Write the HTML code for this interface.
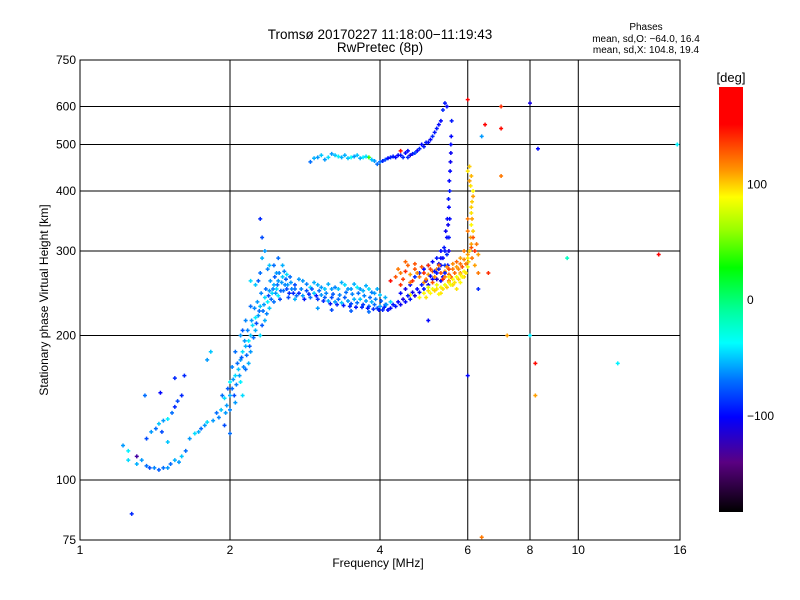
<!DOCTYPE html>
<html><head><meta charset="utf-8"><style>
body{margin:0;background:#fff;}
svg{display:block;font-family:"Liberation Sans",sans-serif;}
</style></head><body>
<svg id="chart" width="800" height="600" viewBox="0 0 800 600">
<rect width="800" height="600" fill="#fff"/>
<text x="380" y="39" font-size="13.5" text-anchor="middle">Tromsø 20170227 11:18:00−11:19:43</text>
<text x="380" y="52" font-size="13.5" text-anchor="middle">RwPretec (8p)</text>
<text x="646" y="30" font-size="10" text-anchor="middle">Phases</text>
<text x="646" y="42" font-size="10" text-anchor="middle">mean, sd,O: −64.0, 16.4</text>
<text x="646" y="53" font-size="10" text-anchor="middle">mean, sd,X: 104.8, 19.4</text>
<g id="grid"></g>
<g id="marks"></g>
<rect x="80" y="60" width="600" height="480" fill="none" stroke="#000" stroke-width="1"/>
<g id="ticks" font-size="12"></g>
<text x="378" y="567" font-size="12" text-anchor="middle">Frequency [MHz]</text>
<text x="0" y="0" font-size="12" text-anchor="middle" transform="translate(48,300) rotate(-90)">Stationary phase Virtual Height [km]</text>
<defs><linearGradient id="cbg" x1="0" y1="1" x2="0" y2="0"></linearGradient></defs>
<rect x="719" y="87" width="24" height="425" fill="url(#cbg)"/>
<text x="731" y="82" font-size="13" text-anchor="middle">[deg]</text>
<g id="cbticks" font-size="12"></g>
</svg>
<script>
const NS='http://www.w3.org/2000/svg';
// data: frequency (MHz), virtual height (km), phase (deg)
const freqs=[1.22,1.25,1.25,1.3,1.33,1.36,1.38,1.41,1.44,1.47,1.5,1.52,1.55,1.58,1.6,1.63,1.3,
1.36,1.39,1.42,1.44,1.47,1.5,1.53,1.55,1.57,1.6,1.35,1.55,1.8,1.83,1.46,1.5,1.66,1.7,1.73,1.75,1.78,1.8,1.85,1.88,
1.92,1.95,1.97,2.0,2.0,2.02,2.05,2.05,2.08,2.1,2.1,2.12,2.15,2.15,2.18,2.2,2.2,2.22,2.25,2.25,2.28,2.3,2.3,2.33,2.35,2.35,2.38,2.4,2.4,2.43,2.45,2.45,2.48,2.5,2.5,2.53,2.55,2.58,2.6,2.6,2.63,2.65,2.3,2.32,2.35,2.3,2.32,2.4,2.5,2.55,2.2,2.25,1.95,2.0,2.12,2.18,
2.7,2.75,2.8,2.85,2.9,2.95,3.0,3.05,3.1,3.15,3.2,3.25,3.3,3.35,3.4,3.45,3.5,3.55,3.6,3.65,3.7,3.75,3.8,3.85,3.9,3.95,4.0,4.05,4.1,3.3,3.4,3.5,3.6,3.7,3.8,3.9,4.0,2.8,3.0,3.1,2.9,3.2,4.1,4.2,2.7,3.0,3.2,3.5,3.8,
4.2,4.3,4.4,4.5,4.6,4.7,4.8,4.9,5.0,5.1,5.2,5.3,5.35,5.4,5.45,5.48,5.5,5.52,5.53,5.55,5.56,5.57,4.6,4.7,4.8,4.9,5.0,5.1,5.2,5.3,4.5,4.4,5.4,5.45,
4.8,4.9,5.0,5.1,5.2,5.3,5.35,5.4,4.7,4.6,
2.9,3.0,3.05,3.15,3.2,3.3,3.4,3.5,3.6,3.7,3.9,4.0,4.1,4.2,4.3,4.4,4.5,3.8,4.4,
4.3,4.4,4.5,4.6,4.7,4.8,4.9,5.0,5.1,5.2,5.3,5.4,5.5,5.6,5.7,5.8,5.9,6.0,4.6,4.9,5.2,5.5,5.8,4.4,4.2,5.0,
4.9,5.0,5.1,5.2,5.3,5.4,5.5,5.6,5.7,5.8,5.9,6.0,5.0,5.3,5.6,5.9,4.8,4.6,
6.05,6.08,6.1,6.1,6.12,6.15,6.05,6.0,6.1,6.12,6.2,6.2,6.0,
6.0,6.5,7.0,7.0,8.0,8.3,7.0,6.3,6.6,7.2,8.0,8.2,8.2,6.0,9.5,12,14.5,1.27,15.8,6.4,6.4,5.0,6.3,1.62,1.45,
1.9,1.93,1.96,1.98,2.0,2.03,2.04,2.06,2.07,2.09,2.11,2.13,2.14,2.16,2.17,2.19,2.21,2.23,2.24,2.26,2.27,2.29,2.31,2.32,2.34,2.36,2.37,2.39,2.41,2.42,2.44,2.46,2.47,2.49,2.51,2.52,2.54,2.56,2.57,2.59,2.61,2.62,2.64,2.66,2.68,2.2,2.15,2.1,2.28,2.38,2.45,2.48,2.05,2.12,2.02,
2.7,2.72,2.78,2.82,2.88,2.92,2.98,3.02,3.08,3.12,3.18,3.22,3.28,3.32,3.38,3.42,3.48,3.52,3.58,3.62,3.68,3.72,3.78,3.82,3.88,3.92,3.98,4.02,4.08,4.12,4.15,2.75,2.85,2.95,3.05,3.15,3.25,3.35,3.45,3.55,3.65,3.75,3.85,3.95,
4.25,4.35,4.45,4.55,4.65,4.75,4.85,4.95,5.05,5.15,5.25,5.3,5.38,5.42,5.46,5.49,5.51,5.54,5.55,5.5,5.47,5.3,5.4,5.35,5.2,5.25,5.5,5.52,
4.85,4.95,5.05,5.15,5.25,4.75,4.65,4.55,5.45,
2.95,3.1,3.25,3.35,3.45,3.55,3.65,3.75,3.85,3.95,4.05,4.15,4.25,4.35,4.45,4.55,
4.35,4.45,4.55,4.65,4.75,4.85,4.95,5.05,5.15,5.25,5.35,5.45,5.55,5.65,5.75,5.85,5.95,5.7,5.6,5.9,5.8,5.5,5.4,5.1,4.7,4.5,
4.95,5.05,5.15,5.25,5.35,5.45,5.55,5.65,5.75,5.85,5.95,6.02,5.7,5.8,5.2,5.5,6.0,
6.1,6.15,6.12,6.1,6.15,6.08,6.1,6.05,6.0,6.15,6.25,6.3];
const heights=[118,110,115,108,110,107,106,106,105,106,106,108,110,109,112,115,112,
122,126,128,131,133,134,138,142,146,150,150,163,178,185,126,120,122,125,126,128,130,132,133,138,
140,148,143,150,160,155,165,145,170,160,178,185,190,170,195,200,185,210,205,218,220,200,230,225,240,215,235,248,228,245,255,235,250,260,242,248,265,255,250,268,245,258,270,290,300,350,320,280,290,280,260,255,130,125,150,175,
250,245,242,248,240,245,238,243,240,236,240,235,238,234,240,236,233,238,234,238,232,236,230,235,232,228,230,226,232,250,255,250,252,248,250,245,243,260,255,250,252,250,240,235,238,228,226,225,224,
228,230,232,235,238,242,246,250,255,262,270,280,290,300,320,340,370,400,440,480,520,560,255,265,270,275,280,285,290,300,250,245,280,295,
490,495,505,520,540,560,590,610,480,475,
460,470,475,470,478,472,475,470,475,470,462,460,465,470,470,475,480,470,485,
265,270,272,268,275,265,270,268,272,275,270,272,268,275,278,282,288,295,258,258,262,260,270,255,260,280,
245,248,250,250,252,255,258,262,265,268,272,278,252,245,255,265,240,243,
300,320,340,360,380,400,420,440,305,290,300,280,350,
620,550,600,540,610,490,430,270,270,200,200,175,150,165,290,175,295,85,500,76,520,215,250,165,152,
135,150,138,155,140,162,150,158,175,165,180,172,195,182,205,190,215,198,228,212,235,225,245,210,232,250,222,242,260,238,250,265,245,255,270,238,258,248,272,262,255,240,265,250,245,230,215,200,260,275,280,270,185,205,172,
255,242,250,238,244,250,242,248,236,245,233,244,232,243,231,246,230,244,229,245,229,242,228,240,227,238,226,236,229,232,226,262,256,258,252,256,252,258,250,256,250,254,246,250,
232,235,238,242,246,250,255,260,266,272,282,290,305,330,350,385,420,460,500,300,280,260,270,265,262,275,320,350,
500,505,512,530,550,485,478,470,600,
468,465,475,470,468,472,468,472,465,455,462,468,472,475,470,485,
275,262,280,260,270,278,262,275,265,280,262,278,265,270,275,278,282,285,282,300,290,275,265,258,282,285,
240,245,248,244,250,252,255,258,262,265,270,285,250,258,255,265,290,
310,330,350,370,390,410,430,450,330,320,310,295];
const phases=[-60,-45,-40,-55,-60,-70,-80,-65,-75,-70,-60,-70,-55,-60,-50,-70,-130,
-80,-60,-70,-50,-60,-40,-70,-90,-80,-90,-70,-90,-60,-50,-80,-50,-60,-45,-55,-70,-60,-45,-60,-70,
-50,-45,-60,-55,-40,-70,-45,-60,-50,-40,-60,-45,-55,-70,-40,-50,-60,-45,-55,-40,-60,-45,-50,-70,-45,-55,-40,-60,-50,-45,-55,-70,-45,-60,-40,-75,-50,-65,-80,-45,-90,-60,-70,-55,-60,-90,-80,-50,-70,-55,-45,-50,-80,-70,-45,-55,
-70,-90,-60,-80,-70,-50,-85,-60,-75,-55,-80,-60,-70,-50,-75,-60,-80,-55,-70,-50,-85,-60,-75,-55,-70,-80,-60,-90,-70,-50,-45,-60,-40,-55,-45,-60,-50,-60,-55,-50,-45,-60,-55,-45,-55,-60,-80,-75,-70,
-100,-95,-105,-100,-95,-110,-100,-95,-105,-100,-95,-105,-100,-95,-100,-105,-100,-95,-100,-105,-100,-95,-100,-90,-95,-100,-90,-100,-95,-100,-110,-100,-85,-90,
-90,-95,-100,-90,-95,-100,-90,-95,-80,-110,
-70,-60,-50,-45,-60,-40,-55,-35,-50,-40,-60,-70,-80,-90,-100,-95,-100,40,150,
130,120,140,110,130,120,140,110,125,115,130,110,125,120,110,120,115,110,120,115,125,120,115,140,150,140,
90,95,85,95,90,85,95,90,85,95,90,85,80,95,100,100,90,85,
100,110,90,95,100,90,110,95,130,120,140,110,120,
170,170,140,150,-110,-100,120,120,140,110,-40,150,110,-100,-20,-40,160,-90,-40,120,-60,-100,-90,-90,-100,
-65,-70,-60,-75,-65,-60,-80,-65,-70,-60,-75,-65,-60,-70,-65,-75,-60,-70,-65,-80,-60,-70,-65,-75,-60,-70,-65,-80,-60,-70,-65,-75,-60,-70,-65,-80,-60,-70,-65,-75,-60,-80,-70,-65,-90,-70,-65,-60,-75,-65,-70,-60,-70,-75,-65,
-80,-70,-65,-95,-90,-75,-95,-70,-90,-65,-95,-75,-90,-65,-95,-70,-90,-65,-95,-70,-90,-65,-95,-70,-90,-65,-95,-75,-90,-60,-100,-60,-65,-55,-60,-55,-65,-55,-60,-55,-60,-55,-65,-55,
-95,-100,-110,-95,-105,-100,-95,-110,-100,-95,-105,-100,-95,-105,-100,-95,-100,-105,-100,-110,-100,-100,-95,-100,-110,-95,-95,-100,
-100,-95,-100,-95,-100,-100,-95,-90,-100,
-55,-60,-50,-55,-50,-60,-55,-45,-50,-70,-90,-100,-95,-100,-90,-100,
120,135,125,140,115,130,120,135,115,125,140,115,130,125,115,130,120,125,115,120,110,135,120,130,130,125,
95,90,100,90,95,100,85,95,100,90,95,100,95,90,85,90,95,
110,100,110,100,110,95,105,100,120,130,120,110];
const xTicks=[1,2,4,6,8,10,16];
const yTicks=[75,100,200,300,400,500,600,750];
const cbTicks=[100,0,-100];
const cStops=[[-183,0,0,0],[-140,90,0,130],[-101,0,0,255],[-70,0,110,255],[-37,0,255,255],[-10,0,255,160],[28,0,255,0],[60,150,255,0],[89,255,255,0],[112,255,150,0],[152,255,0,0],[184,255,0,0]];

const X0=80,X1=680,Y0=540,Y1=60;
const fx=f=>X0+(X1-X0)*Math.log(f/1)/Math.log(16);
const hy=h=>Y0-(Y0-Y1)*Math.log(h/75)/Math.log(10);
function col(p){
  if(p<=cStops[0][0])return 'rgb(0,0,0)';
  for(let i=1;i<cStops.length;i++){const a=cStops[i-1],b=cStops[i];
    if(p<=b[0]){const t=(p-a[0])/(b[0]-a[0]);
      return 'rgb('+[1,2,3].map(k=>Math.round(a[k]+(b[k]-a[k])*t)).join(',')+')';}}
  return 'rgb(255,0,0)';
}
const grid=document.getElementById('grid'),ticks=document.getElementById('ticks');
xTicks.forEach(v=>{const x=fx(v);
  if(v>1&&v<16){const l=document.createElementNS(NS,'line');
    l.setAttribute('x1',x);l.setAttribute('x2',x);l.setAttribute('y1',Y1);l.setAttribute('y2',Y0);l.setAttribute('stroke','#000');
    
    
    grid.appendChild(l);}
  const t=document.createElementNS(NS,'text');t.setAttribute('x',x);t.setAttribute('y',554);t.setAttribute('text-anchor','middle');t.textContent=v;
  
  
  ticks.appendChild(t);});
yTicks.forEach(v=>{const y=hy(v);
  if(v>75&&v<750){const l=document.createElementNS(NS,'line');
    l.setAttribute('x1',X0);l.setAttribute('x2',X1);l.setAttribute('y1',y);l.setAttribute('y2',y);l.setAttribute('stroke','#000');
    
    
    grid.appendChild(l);}
  const t=document.createElementNS(NS,'text');t.setAttribute('x',76);t.setAttribute('y',y+4);t.setAttribute('text-anchor','end');t.textContent=v;
  
  
  ticks.appendChild(t);});
const marks=document.getElementById('marks');
freqs.forEach((f,i)=>{const x=fx(f),y=hy(heights[i]);
  if(x<X0||x>X1||y<Y1||y>Y0)return;
  const p=document.createElementNS(NS,'path');
  p.setAttribute('d','M'+(x-2)+' '+y+'h4M'+x+' '+(y-2)+'v4');
  p.setAttribute('stroke',col(phases[i]));p.setAttribute('stroke-width','1.5');
  
  
  marks.appendChild(p);});
const g=document.getElementById('cbg');
cStops.forEach(s=>{const st=document.createElementNS(NS,'stop');
  st.setAttribute('offset',((s[0]+183)/(184+183)).toFixed(4));st.setAttribute('stop-color','rgb('+s[1]+','+s[2]+','+s[3]+')');g.appendChild(st);});
const cbt=document.getElementById('cbticks');
cbTicks.forEach(v=>{const y=87+(184-v)/(184+183)*425;
  const t=document.createElementNS(NS,'text');t.setAttribute('x',747);t.setAttribute('y',y+4);t.textContent=v<0?'−'+(-v):v;
  
  
  cbt.appendChild(t);});
</script>
</body></html>
